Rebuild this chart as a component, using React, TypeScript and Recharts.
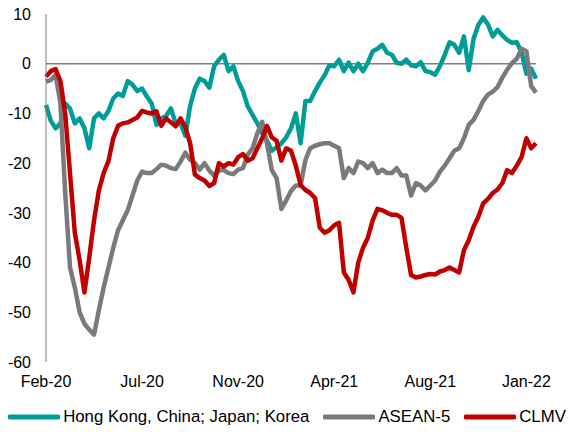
import { LineChart, Line, XAxis, YAxis, ReferenceLine, Legend } from "recharts";

const dateLabels = ["Feb-20", "Jul-20", "Nov-20", "Apr-21", "Aug-21", "Jan-22"];
const yTicks = [-60, -50, -40, -30, -20, -10, 0, 10];

const hkChinaJapanKorea = [
  -8.3, -11.5, -13, -12, -8, -9, -12, -11, -13, -17,
  -11, -10, -11, -9.5, -7, -6, -6.5, -3.5, -4.2, -5.5,
  -5, -6.6, -8, -12.3, -11, -10.5, -9, -12, -12, -14.5,
  -8.5, -5, -3, -3.5, -4.8, -0.5, 0.8, 1.8, -1.5, -0.5,
  -3.5, -5.5, -8.6, -10.3, -12, -14, -15.5, -17.5, -16.8, -16,
  -14.8, -13, -10, -16, -7.5, -7.5, -5.5, -3.8, -2.3, -0.3,
  -0.5, 0.8, -1.5, 0.2, -1.5, 0, -1.5, 0.2, 2.5, 3,
  3.8, 2.2, 1.8, 0.2, 0, 0.8, -0.3, -0.5, 0.3, -1.5,
  -1.7, -2.2, -0.5, 1.8, 4.3, 3.8, 2.2, 5.5, -1.3, 5,
  7.8, 9.3, 7.9, 5.5, 6.8, 5.7, 4.8, 4.2, 4.3, 2.3,
  -2, -1, -3,
];

const asean5 = [
  -3.6, -3.3, -2.2, -8, -26, -41, -45, -50, -52.3, -53.5,
  -54.5, -49.6, -45, -41, -37, -33.5, -31.5, -29.5, -26.5, -23.5,
  -21.7, -22, -22, -21.2, -20.3, -20.5, -21, -21.2, -19.7, -17.9,
  -19.3, -20, -21.3, -20, -21.5, -22.5, -21.5, -21.4, -22, -22.2,
  -21.3, -21, -18.3, -17, -14, -11.7, -16, -21.4, -23, -29.2,
  -27.5, -25.6, -24.5, -24.5, -19.4, -17, -16.5, -16.2, -16, -16,
  -16.5, -17, -23, -21, -22, -19.7, -20, -21, -20, -22,
  -21.3, -22, -22, -21, -22.5, -22.5, -26.5, -24, -24.5, -25.5,
  -24.5, -23.5, -21.7, -20.5, -19, -17.5, -17, -15, -12.3, -11.3,
  -9.5, -7.5, -6.2, -5.6, -4.7, -2.8, -1.2, 0.1, 1, 3,
  2.5, -4.5, -5.8,
];

const clmv = [
  -2.6, -1.5, -1.1, -3.5, -10, -22, -34, -39.5, -46, -39,
  -31.5, -25.5, -22, -19.6, -15, -12.5, -12, -11.8, -11.3, -10.8,
  -9.5, -9.8, -10, -9.6, -12.5, -11, -11.8, -12.6, -11, -12.7,
  -16, -22.3, -23, -23.5, -24.6, -24, -20, -20.7, -20, -20.3,
  -18.8, -18.2, -19.5, -19, -17, -15, -12.5, -14.8, -15.5, -19.5,
  -17, -17.5, -20.5, -24.4, -25.4, -26, -27, -33, -34, -33.5,
  -32.5, -32, -42, -43.5, -46, -40, -37, -35, -31.5, -29.2,
  -29.5, -30, -30.4, -30.4, -31, -37, -42.5, -43, -42.8, -42.5,
  -42.3, -42.4, -41.8, -41.5, -41, -41.5, -42, -37.5, -35.5, -32.8,
  -30.8, -28.1, -27.2, -26, -25.3, -24, -21.4, -22, -20.5, -18.8,
  -15, -17, -16,
];

const data = hkChinaJapanKorea.map((v, i) => ({
  i,
  hk: v,
  asean: asean5[i],
  clmv: clmv[i],
}));

const font = "'Liberation Sans', Arial, sans-serif";

const series = [
  { key: "hk", name: "Hong Kong, China; Japan; Korea", color: "#009C98" },
  { key: "asean", name: "ASEAN-5", color: "#7A7A7A" },
  { key: "clmv", name: "CLMV", color: "#C00000" },
];

const LegendContent = () => (
  <div
    style={{
      display: "flex",
      justifyContent: "center",
      alignItems: "center",
      height: 30,
      gap: 14,
      fontFamily: font,
      fontSize: 16.8,
      color: "#000",
      whiteSpace: "nowrap",
    }}
  >
    {series.map((s) => (
      <div key={s.key} style={{ display: "flex", alignItems: "center", gap: 3 }}>
        <svg width={52} height={6}>
          <line x1={2} y1={3} x2={50} y2={3} stroke={s.color} strokeWidth={5} strokeLinecap="round" />
        </svg>
        <span>{s.name}</span>
      </div>
    ))}
  </div>
);

export default function App() {
  return (
    <div style={{ position: "absolute", left: 0, top: 0, background: "#fff" }}>
      <LineChart
        width={574}
        height={432}
        data={data}
        margin={{ top: 14, right: 38, left: 0, bottom: 0 }}
      >
        <XAxis
          dataKey="i"
          type="number"
          domain={[0, 102]}
          ticks={[0, 20, 40, 60, 80, 100]}
          tickFormatter={(v) => dateLabels[v / 20]}
          axisLine={false}
          tickLine={false}
          tickSize={6}
          tickMargin={8}
          height={40}
          interval={0}
          tick={{ fontSize: 16, fill: "#000", fontFamily: font }}
        />
        <YAxis
          domain={[-60, 10]}
          ticks={yTicks}
          interval={0}
          width={46}
          axisLine={{ stroke: "#808080", strokeWidth: 1 }}
          tickLine={false}
          tickSize={6}
          tickMargin={9}
          tick={{ fontSize: 16, fill: "#000", fontFamily: font }}
        />
        <ReferenceLine y={0} stroke="#808080" strokeWidth={1.5} />
        <Legend verticalAlign="bottom" height={30} content={<LegendContent />} wrapperStyle={{ left: 0, width: 574 }} />
        {series.map((s) => (
          <Line
            key={s.key}
            type="linear"
            dataKey={s.key}
            name={s.name}
            stroke={s.color}
            strokeWidth={4.5}
            strokeLinejoin="round"
            dot={false}
            isAnimationActive={false}
          />
        ))}
      </LineChart>
    </div>
  );
}
